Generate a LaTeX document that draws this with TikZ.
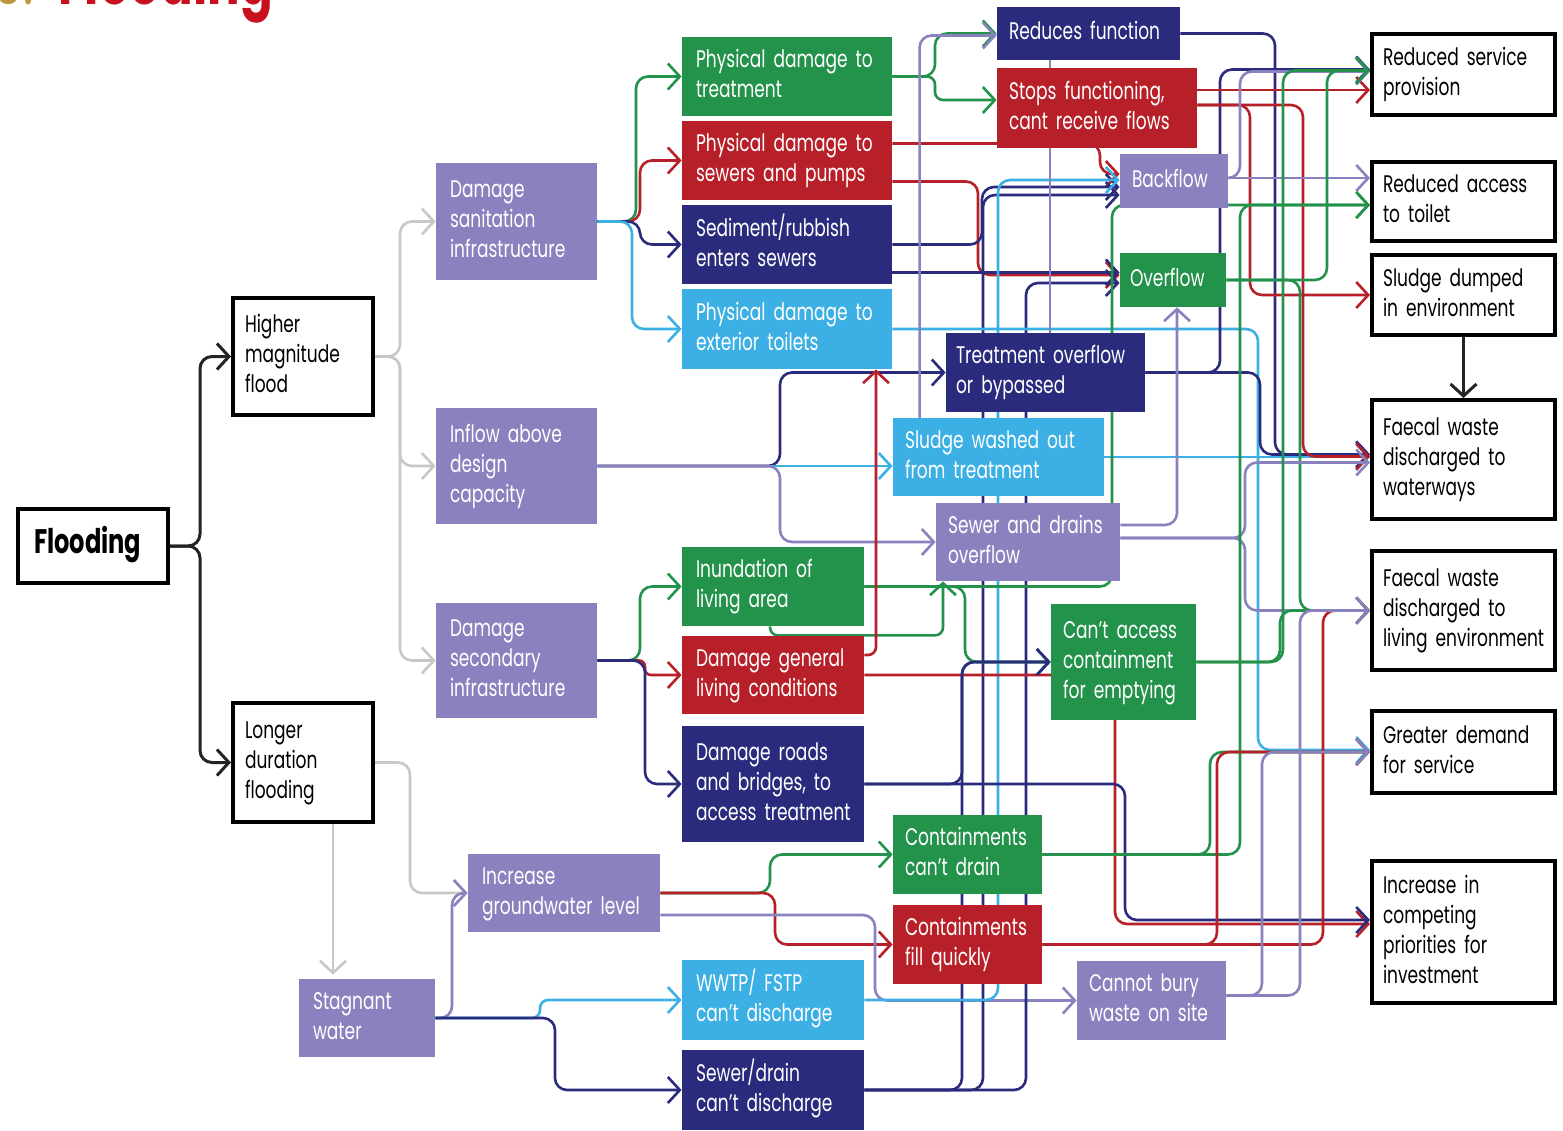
\documentclass[tikz,border=0pt]{standalone}
\usepackage{fontspec}
\setmainfont{Poppins}[FakeStretch=0.71]
\usetikzlibrary{arrows.meta,calc}
\pgfdeclarelayer{bg}
\pgfsetlayers{bg,main}
\definecolor{cPur}{RGB}{138,130,190}
\definecolor{cGrn}{RGB}{35,146,74}
\definecolor{cRed}{RGB}{183,32,40}
\definecolor{cNav}{RGB}{43,43,125}
\definecolor{cLbl}{RGB}{60,176,228}
\definecolor{cGry}{RGB}{200,200,200}
\definecolor{cBlk}{RGB}{35,35,35}
\definecolor{cTitle}{RGB}{200,16,30}
\definecolor{cGold}{RGB}{190,150,60}
\newcommand\mybox[8]{%
 \pgfmathsetmacro\bxcx{(#3+#5)/2}%
 \pgfmathsetmacro\bxcy{(#4+#6)/2}%
 \pgfmathsetmacro\bxw{(#5-#3)/2}%
 \pgfmathsetmacro\bxh{(#6-#4)/2}%
 \pgfmathsetmacro\bxtw{\bxw-2*#7}%
 \node[#2, inner xsep=#7pt, inner ysep=0pt, minimum width=\bxw pt, minimum height=\bxh pt, text width=\bxtw pt] (#1) at (\bxcx,\bxcy) {\noindent\begin{tabular}{@{}l@{}}#8\end{tabular}};}
\tikzset{
 >={Straight Barb[length=6pt,width=13pt]},
 fbox/.style={fill=#1, text=white, font=\fontsize{12}{15}\selectfont},
 obox/.style={draw=black, line width=2pt, fill=white, text=black, font=\fontsize{12}{15}\selectfont},
 conn/.style={draw=#1, line width=1.3pt, rounded corners=6pt, ->},
 plain/.style={draw=#1, line width=1.3pt, rounded corners=6pt},
}
\begin{document}
\begin{tikzpicture}[x=0.5pt,y=-0.5pt]
\begin{pgfonlayer}{bg}
\fill[white] (0,0) rectangle (1563,1130);
\end{pgfonlayer}
\useasboundingbox (0,0) rectangle (1563,1130);
% title (cut off at top)
\node[anchor=base east, text=cGold, font=\fontsize{34}{34}\selectfont, inner sep=0pt] (num) at (34,4) {6.};
\node[anchor=base west, text=cTitle, font=\fontsize{34}{34}\selectfont\bfseries, inner sep=0pt] (title) at (58,4) {Flooding};
% outlined boxes
\mybox{flood}{obox, font=\fontsize{17}{19}\selectfont\bfseries}{18}{509}{168}{583}{8}{Flooding}
\mybox{higher}{obox}{233}{298}{373}{415}{6}{Higher\\magnitude\\flood}
\mybox{longer}{obox}{233}{703}{373}{822}{6}{Longer\\duration\\flooding}
\mybox{rsp}{obox}{1372}{34}{1555}{115}{5.5}{Reduced service\\provision}
\mybox{rat}{obox}{1372}{162}{1555}{241}{5.5}{Reduced access\\to toilet}
\mybox{sde}{obox}{1372}{255}{1555}{335}{5.5}{Sludge dumped\\in environment}
\mybox{fww}{obox}{1372}{400}{1555}{519}{5.5}{Faecal waste\\discharged to\\waterways}
\mybox{fle}{obox}{1372}{551}{1555}{670}{5.5}{Faecal waste\\discharged to\\living environment}
\mybox{gds}{obox}{1372}{711}{1555}{793}{5.5}{Greater demand\\for service}
\mybox{icp}{obox}{1372}{861}{1555}{1003}{5.5}{Increase in\\competing\\priorities for\\investment}
% purple
\mybox{dsan}{fbox=cPur}{436}{163}{597}{280}{7}{Damage\\sanitation\\infrastructure}
\mybox{inflow}{fbox=cPur}{436}{408}{597}{524}{7}{Inflow above\\design\\capacity}
\mybox{dsec}{fbox=cPur}{436}{603}{597}{718}{7}{Damage\\secondary\\infrastructure}
\mybox{gw}{fbox=cPur}{468}{854}{660}{932}{7}{Increase\\groundwater level}
\mybox{stag}{fbox=cPur}{299}{979}{435}{1057}{7}{Stagnant\\water}
\mybox{backf}{fbox=cPur}{1120}{154}{1228}{208}{6}{Backflow}
\mybox{sewdr}{fbox=cPur}{936}{503}{1120}{581}{6}{Sewer and drains\\overflow}
\mybox{cbury}{fbox=cPur}{1077}{961}{1226}{1040}{6}{Cannot bury\\waste on site}
% green
\mybox{ptreat}{fbox=cGrn}{682}{37}{892}{116}{7}{Physical damage to\\treatment}
\mybox{overf}{fbox=cGrn}{1120}{253}{1226}{307}{5}{Overflow}
\mybox{inund}{fbox=cGrn}{682}{547}{864}{626}{7}{Inundation of\\living area}
\mybox{cacc}{fbox=cGrn}{1051}{604}{1196}{720}{6}{Can't access\\containment\\for emptying}
\mybox{cdrain}{fbox=cGrn}{893}{815}{1042}{894}{6}{Containments\\can't drain}
% red
\mybox{psewer}{fbox=cRed}{682}{121}{892}{200}{7}{Physical damage to\\sewers and pumps}
\mybox{stops}{fbox=cRed}{997}{68}{1197}{148}{6}{Stops functioning,\\cant receive flows}
\mybox{dgen}{fbox=cRed}{682}{636}{864}{714}{7}{Damage general\\living conditions}
\mybox{cfill}{fbox=cRed}{893}{905}{1042}{984}{6}{Containments\\fill quickly}
% navy
\mybox{rfunc}{fbox=cNav}{997}{7}{1180}{60}{6}{Reduces function}
\mybox{sedi}{fbox=cNav}{682}{205}{892}{284}{7}{Sediment/rubbish\\enters sewers}
\mybox{treato}{fbox=cNav}{946}{333}{1145}{412}{5}{Treatment overflow\\or bypassed}
\mybox{droads}{fbox=cNav}{682}{726}{864}{842}{7}{Damage roads\\and bridges, to\\access treatment}
\mybox{sdisch}{fbox=cNav}{682}{1050}{864}{1130}{7}{Sewer/drain\\can't discharge}
% light blue
\mybox{pext}{fbox=cLbl}{682}{289}{892}{369}{7}{Physical damage to\\exterior toilets}
\mybox{sludge}{fbox=cLbl}{893}{418}{1104}{496}{6}{Sludge washed out\\from treatment}
\mybox{wwtp}{fbox=cLbl}{682}{960}{864}{1040}{7}{WWTP/ FSTP\\can't discharge}

\begin{pgfonlayer}{bg}
% black
\draw[conn=cBlk, line width=1.5pt] (flood.east) -- (200,546) |- (higher.west);
\draw[conn=cBlk, line width=1.5pt] (flood.east) -- (200,546) |- (longer.west);
\draw[conn=cBlk, line width=1.5pt, rounded corners=0pt] (sde.south) -- (fww.north);
% gray
\draw[conn=cGry] (higher.east) -- (400,356.5) |- (dsan.west);
\draw[conn=cGry] (higher.east) -- (400,356.5) |- (inflow.west);
\draw[conn=cGry] (higher.east) -- (400,356.5) |- (dsec.west);
\draw[conn=cGry] (longer.east) -- (410,762.5) |- (gw.west);
\draw[conn=cGry] ($(longer.south)+(30,0)$) -- ($(stag.north)+(-34,-4)$);
% stagnant water
\draw[conn=cPur] (stag.east) -- (452,1018) |- (gw.west);
\draw[conn=cLbl, rounded corners=4pt] (stag.east) -- (540,1018) |- (wwtp.west);
\draw[conn=cNav] (stag.east) -- (555,1018) |- (sdisch.west);
% damage sanitation
\draw[conn=cGrn] (dsan.east) -- (636,221.5) |- (ptreat.west);
\draw[conn=cRed] (dsan.east) -- (640,221.5) |- (psewer.west);
\draw[conn=cNav] (dsan.east) -- (640,221.5) |- (sedi.west);
\draw[conn=cLbl] (dsan.east) -- (632,221.5) |- (pext.west);
% inflow
\draw[conn=cNav] (inflow.east) -- (780,466) |- (treato.west);
\draw[conn=cLbl] (inflow.east) -- (inflow.east -| sludge.west);
\draw[conn=cPur] (inflow.east) -- (780,466) |- (sewdr.west);
% damage secondary
\draw[conn=cGrn] (dsec.east) -- (640,660.5) |- (inund.west);
\draw[conn=cRed, rounded corners=3pt] (dsec.east) -- (645,660.5) |- (dgen.west);
\draw[conn=cNav] (dsec.east) -- (645,660.5) |- (droads.west);
% groundwater
\draw[conn=cGrn] (gw.east) -- (770,893) |- (cdrain.west);
\draw[conn=cRed] (gw.east) -- (775,893) |- (cfill.west);
\draw[conn=cPur] ($(gw.east)+(0,22)$) -- (875,915) |- (cbury.west);
% physical damage to treatment
\draw[conn=cGrn] (ptreat.east) -- (935,76.5) |- ($(rfunc.west)+(0,0)$);
\draw[conn=cGrn, rounded corners=4pt] (ptreat.east) -- (935,76.5) |- ($(stops.west)+(0,-8)$);
% physical damage to sewers
\draw[conn=cRed] ($(psewer.east)+(0,-17)$) -- (1100,143.5) |- ($(backf.west)+(0,-7)$);
\draw[conn=cRed] ($(psewer.east)+(0,21)$) -- (978,181.5) |- ($(overf.west)+(0,-5)$);
% sediment
\draw[conn=cNav] (sedi.east) -- (982,244.5) |- ($(backf.west)+(0,6)$);
\draw[conn=cNav] ($(sedi.east)+(0,28)$) -- ($(overf.west)+(0,-7.5)$);
% sewer/drain can't discharge and WWTP
\draw[conn=cNav] (sdisch.east) -- (983,1090) |- ($(backf.west)+(0,14)$);
\draw[conn=cNav] (sdisch.east) -- (1026,1090) |- ($(overf.west)+(0,3)$);
\draw[conn=cNav] (sdisch.east) -- (962,1090) |- (cacc.west);
\draw[conn=cLbl] (wwtp.east) -- (998,1000) |- ($(backf.west)+(0,-1)$);
% exterior toilets
\draw[conn=cLbl] (pext.east) -- (1258,329) |- ($(gds.west)+(0,-2)$);
% sludge washed out
\draw[conn=cLbl] (sludge.east) -- ($(fww.west)+(0,-2.5)$);
% treatment overflow
\draw[conn=cNav] (treato.east) -- (1220,372.5) |- ($(rsp.west)+(0,-5)$);
\draw[conn=cNav] (treato.east) -- (1260,372.5) |- ($(fww.west)+(0,-5)$);
% reduces function
\draw[conn=cNav] (rfunc.east) -- (1275,33.5) |- ($(fww.west)+(0,-5)$);
% stops functioning
\draw[conn=cRed] ($(stops.east)+(0,-18)$) -- ($(rsp.west)+(0,15.5)$);
\draw[conn=cRed] ($(stops.east)+(0,-3)$) -- (1250,105) |- (sde.west);
\draw[conn=cRed] ($(stops.east)+(0,-3)$) -- (1303,105) |- ($(fww.west)+(0,-3)$);
% backflow
\draw[conn=cPur] ($(backf.east)+(0,-3)$) -- ($(rat.west)+(0,-23.5)$);
\draw[conn=cPur] ($(backf.east)+(0,-3)$) -- (1240,178) |- ($(rsp.west)+(0,-3)$);
% overflow
\draw[conn=cGrn] (overf.east) -- (1327,280) |- ($(rsp.west)+(0,-4)$);
\draw[conn=cGrn] (overf.east) -- (1300,280) |- (fle.west);
% sewer and drains overflow
\draw[conn=cPur] ($(sewdr.east)+(0,-4)$) -- (1245,538) |- ($(fww.west)+(0,3)$);
\draw[conn=cPur] ($(sewdr.east)+(0,-4)$) -- (1245,538) |- (fle.west);
\draw[conn=cPur] ($(sewdr.east)+(0,-17)$) -| ($(overf.south)+(4,0)$);
\draw[conn=cPur] ($(sludge.north west)+(27,30)$) |- ($(rfunc.west)+(0,2)$);
\draw[plain=cPur] ($(rfunc.south)+(-38.5,0)$) -- ($(treato.north)+(4.5,0)$);
% inundation
\draw[conn=cGrn] (inund.east) -- (1112,586.5) |- ($(rat.west)+(0,3.5)$);
\draw[conn=cGrn, rounded corners=4pt] ($(inund.south)+(-3,0)$) -- ++(0,9) -| ($(sewdr.south)+(-85,0)$);
\draw[conn=cGrn] (inund.east) -- (965,586.5) |- (cacc.west);
% damage general living conditions
\draw[conn=cRed, rounded corners=4pt] ($(dgen.east)+(0,-20)$) -| ($(pext.south)+(89,0)$);
\draw[conn=cRed] (dgen.east) -- (1115,675) |- ($(icp.west)+(0,-8)$);
% damage roads
\draw[conn=cNav] (droads.east) -- (962,784) |- (cacc.west);
\draw[conn=cNav] (droads.east) -- (1125,784) |- ($(icp.west)+(0,-12)$);
% can't access
\draw[conn=cGrn] (cacc.east) -- (1280,662) |- (fle.west);
\draw[conn=cGrn] (cacc.east) -- (1283,662) |- ($(rsp.west)+(0,-4)$);
% containments
\draw[conn=cGrn] (cdrain.east) -- (1240,854.5) |- ($(rat.west)+(0,3.5)$);
\draw[conn=cGrn] (cdrain.east) -- (1210,854.5) |- (gds.west);
\draw[conn=cRed] (cfill.east) -- (1323,944.5) |- (fle.west);
\draw[conn=cRed] (cfill.east) -- (1217,944.5) |- (gds.west);
% cannot bury
\draw[conn=cPur] ($(cbury.east)+(0,-5)$) -- (1262,995.5) |- (gds.west);
\draw[conn=cPur] ($(cbury.east)+(0,-5)$) -- (1300,995.5) |- (fle.west);
\end{pgfonlayer}
\end{tikzpicture}
\end{document}
